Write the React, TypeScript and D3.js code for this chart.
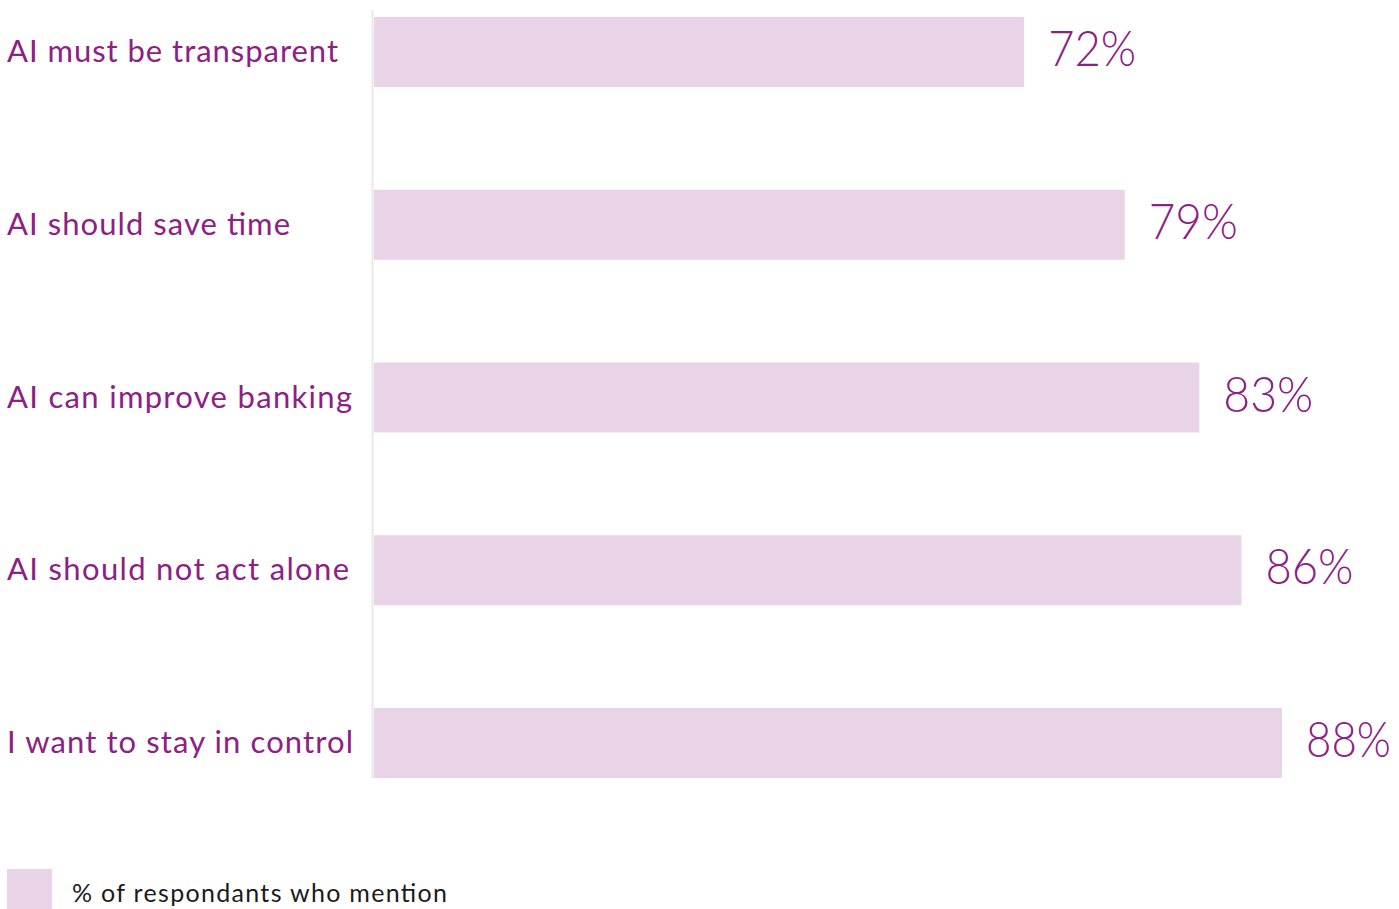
import React from "react";
import * as d3 from "d3";

const categories = [
  "AI must be transparent",
  "AI should save time",
  "AI can improve banking",
  "AI should not act alone",
  "I want to stay in control",
];
// bar lengths (percent of respondents)
const values = [72.1, 78.3, 82.9, 85.5, 88.0];
// value labels as printed
const valueLabels = ["72%", "79%", "83%", "86%", "88%"];
const legendLabel = "% of respondants who mention";

// measured text widths for tight fit to the reference layout
const labelWidths = [331, 283, 345, 342, 346];
const valueLabelWidths = [88, 89, 90, 88, 85];

const W = 1399;
const H = 909;
const PURPLE = "#8d2084";
const BAR = "#e8d4e6";

export default function App() {
  React.useEffect(() => {
    document.body.style.margin = "0";
  }, []);

  const x = d3.scaleLinear().domain([32, 88]).range([374, 1282]);
  const y = d3
    .scaleBand<string>()
    .domain(categories)
    .range([17, 778])
    .paddingInner(0.595)
    .paddingOuter(0);

  const bw = y.bandwidth();

  return (
    <svg
      width={W}
      height={H}
      style={{ position: "absolute", left: 0, top: 0, display: "block" }}
      fontFamily="Lato, 'Noto Sans', sans-serif"
    >
      <rect x={0} y={0} width={W} height={H} fill="#ffffff" />
      <line x1={372.5} x2={372.5} y1={10} y2={778} stroke="#e9e8e3" strokeWidth={2} />
      {categories.map((c, i) => {
        const y0 = y(c)!;
        const cy = y0 + bw / 2;
        return (
          <g key={c}>
            <rect x={x.range()[0]} y={y0} width={x(values[i]) - x.range()[0]} height={bw} fill={BAR} />
            <text
              x={7}
              y={cy + 10}
              fontSize={31}
              fill={PURPLE}
              textLength={labelWidths[i]}
              lengthAdjust="spacing"
            >
              {c}
            </text>
            <text
              x={x(values[i]) + 24}
              y={cy + 14}
              fontSize={50}
              fontWeight={300}
              fill={PURPLE}
              textLength={valueLabelWidths[i]}
              lengthAdjust="spacingAndGlyphs"
            >
              {valueLabels[i]}
            </text>
          </g>
        );
      })}
      <rect x={7} y={869} width={45} height={40} fill={BAR} />
      <text x={72} y={902} fontSize={25} fill="#1c1a1c" textLength={375} lengthAdjust="spacing">
        {legendLabel}
      </text>
    </svg>
  );
}
